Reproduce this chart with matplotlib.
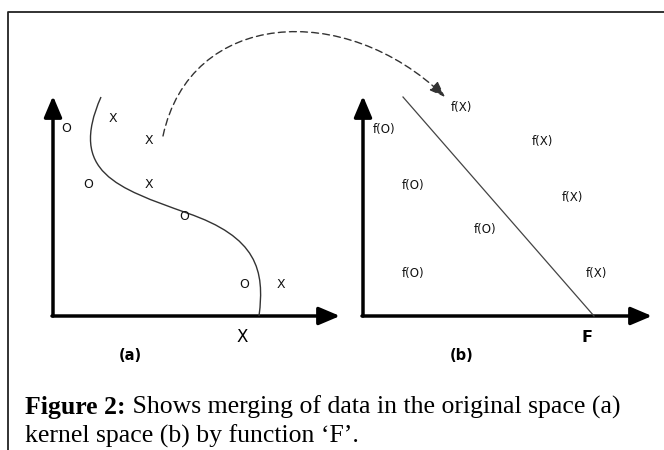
import matplotlib.pyplot as plt
from matplotlib.path import Path
from matplotlib.patches import PathPatch, FancyArrowPatch

W, H = 664, 450

# panel (a): original space, letters at their positions
a_labels = ["O", "X", "X", "O", "X", "O", "O", "X"]
a_x = [66, 113, 149, 88, 149, 184, 244, 281]
a_y = [129, 118, 141, 185, 185, 217, 284, 284]

# panel (b): kernel space
b_labels = ["f(X)", "f(O)", "f(X)", "f(O)", "f(X)", "f(O)", "f(O)", "f(X)"]
b_x = [461, 384, 542, 413, 572, 485, 413, 596]
b_y = [108, 129, 142, 186, 197, 229, 273, 273]

# separating curve in (a), two cubic segments (control points)
curve_x = [101, 68, 117, 187, 257, 265, 259]
curve_y = [97, 172, 188, 213, 237, 270, 316]

# dashed mapping arc from (a) to (b)
arc_x = [163, 190, 345, 445]
arc_y = [136, 10, 0, 97]

# straight separator in (b)
line_x = [403, 594]
line_y = [97, 316]

caption_bold = "Figure 2:"
caption_1 = " Shows merging of data in the original space (a)"
caption_2 = "kernel space (b) by function \u2018F\u2019."

fig = plt.figure(figsize=(W / 100, H / 100), dpi=100)
ax = fig.add_axes([0, 0, 1, 1])
ax.set_xlim(0, W)
ax.set_ylim(H, 0)
ax.axis("off")

# frame
ax.plot([8, 8, W], [H, 12, 12], color="#222222", lw=1.3, solid_capstyle="butt")

def axis_arrow(x0, y0, x1, y1):
    ax.add_patch(FancyArrowPatch((x0, y0), (x1, y1),
                                 arrowstyle="-|>,head_length=0.85,head_width=0.36",
                                 mutation_scale=15, lw=2.5, color="black",
                                 shrinkA=0, shrinkB=0))

# axes of both panels
axis_arrow(53, 316, 53, 96)
axis_arrow(52, 316, 340, 316)
axis_arrow(363, 316, 363, 96)
axis_arrow(362, 316, 652, 316)

# S curve
codes = [Path.MOVETO] + [Path.CURVE4] * 6
ax.add_patch(PathPatch(Path(list(zip(curve_x, curve_y)), codes),
                       fill=False, lw=1.0, edgecolor="#333333"))

# diagonal
ax.plot(line_x, line_y, color="#444444", lw=0.9)

# dashed arc with arrow
arc = Path(list(zip(arc_x, arc_y)), [Path.MOVETO] + [Path.CURVE4] * 3)
ax.add_patch(FancyArrowPatch(path=arc, arrowstyle="-|>,head_length=0.8,head_width=0.3",
                             mutation_scale=12, lw=1.0, color="#333333",
                             linestyle=(0, (5, 3))))

for s, x, y in zip(a_labels, a_x, a_y):
    ax.text(x, y, s, fontsize=9, ha="center", va="center", color="#111111")
for s, x, y in zip(b_labels, b_x, b_y):
    ax.text(x, y, s, fontsize=8.5, ha="center", va="center", color="#111111")

ax.text(242, 337, "X", fontsize=12, ha="center", va="center")
ax.text(587, 337, "F", fontsize=11.5, fontweight="bold", ha="center", va="center")
ax.text(130, 355, "(a)", fontsize=10.5, fontweight="bold", ha="center", va="center")
ax.text(462, 355, "(b)", fontsize=10.5, fontweight="bold", ha="center", va="center")

# caption: bold lead-in, then regular text on the same baseline
cap = dict(family="Liberation Serif", fontsize=18.5)
t1 = ax.text(25, 414, caption_bold, fontweight="bold", ha="left", va="baseline", **cap)
r = fig.canvas.get_renderer()
x_end = ax.transData.inverted().transform(t1.get_window_extent(r).corners()[-1])[0]
ax.text(x_end, 414, caption_1, ha="left", va="baseline", **cap)
ax.text(25, 443, caption_2, ha="left", va="baseline", **cap)

fig.savefig("out.png", dpi=100)
